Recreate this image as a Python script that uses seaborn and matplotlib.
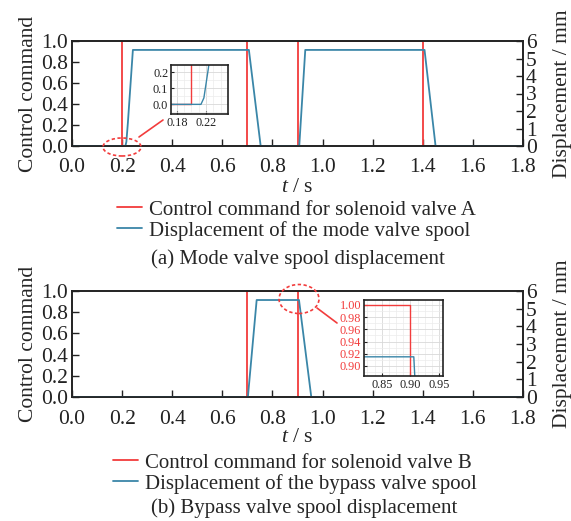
import numpy as np
import pandas as pd
import matplotlib
matplotlib.use("Agg")
import matplotlib.pyplot as plt
import seaborn as sns
from matplotlib.patches import Ellipse
from matplotlib.lines import Line2D
from matplotlib.ticker import MultipleLocator, FormatStrFormatter

# ---------------- data ----------------
cmd_a_t = [0.0, 0.2, 0.2, 0.7, 0.7, 0.9, 0.9, 1.4, 1.4, 1.8]
cmd_a_v = [0, 0, 1, 1, 0, 0, 1, 1, 0, 0]
mode_t = [0.0, 0.213, 0.217, 0.223, 0.243, 0.706, 0.753, 0.907, 0.931, 1.407, 1.451, 1.8]
mode_mm = [0.0, 0.0, 0.24, 1.32, 5.49, 5.49, 0.0, 0.0, 5.49, 5.49, 0.0, 0.0]

cmd_b_t = [0.0, 0.7, 0.7, 0.9, 0.9, 1.8]
cmd_b_v = [0, 0, 1, 1, 0, 0]
bypass_t = [0.0, 0.702, 0.737, 0.906, 0.955, 1.8]
bypass_mm = [0.0, 0.0, 5.49, 5.49, 0.0, 0.0]

x_ticks = [0.0, 0.2, 0.4, 0.6, 0.8, 1.0, 1.2, 1.4, 1.6, 1.8]
left_ticks = [0.0, 0.2, 0.4, 0.6, 0.8, 1.0]
right_ticks = [0, 1, 2, 3, 4, 5, 6]

labels_a = ["Control command for solenoid valve A", "Displacement of the mode valve spool"]
labels_b = ["Control command for solenoid valve B", "Displacement of the bypass valve spool"]
caption_a = "(a) Mode valve spool displacement"
caption_b = "(b) Bypass valve spool displacement"

RED = "#f23c3c"
BLUE = "#3a86a8"

sns.set_style("ticks")
plt.rcParams["font.family"] = ["Liberation Serif", "DejaVu Serif"]
plt.rcParams["mathtext.fontset"] = "custom"
plt.rcParams["mathtext.rm"] = "Liberation Serif"
plt.rcParams["mathtext.it"] = "Liberation Serif:italic"
plt.rcParams["axes.edgecolor"] = "#222222"
plt.rcParams["axes.linewidth"] = 1.2

FS = 15.5
LFS = 15

fig = plt.figure(figsize=(5.71, 5.21), dpi=100)
W, H = 571.0, 521.0


def px_axes(l, r, t, b):
    return [l / W, 1 - b / H, (r - l) / W, (b - t) / H]


def style_main(ax, ax2):
    ax.set_xlim(0, 1.8)
    ax.set_ylim(0, 1.0)
    ax.set_xticks(x_ticks)
    ax.set_yticks(left_ticks)
    ax.xaxis.set_major_formatter(FormatStrFormatter("%.1f"))
    ax.yaxis.set_major_formatter(FormatStrFormatter("%.1f"))
    ax.tick_params(direction="in", length=5, width=1, labelsize=FS, pad=3,
                   top=False, right=False, colors="#222222")
    ax.tick_params(axis="x", pad=9)
    ax.set_ylabel("Control command", fontsize=FS, labelpad=2)
    ax.set_xlabel(r"$\it{t}$ / s", fontsize=FS, labelpad=0)
    ax2.set_ylim(0, 6)
    ax2.set_yticks(right_ticks)
    ax2.tick_params(direction="in", length=5, width=1, labelsize=FS, pad=2,
                    colors="#222222")
    ax2.set_ylabel("Displacement / mm", fontsize=FS, labelpad=12)
    for s in ax.spines.values():
        s.set_visible(True)
    for s in ax2.spines.values():
        s.set_visible(True)


def draw_lines(ax, ax2, ct, cv, dt, dmm):
    sns.lineplot(x=ct, y=cv, ax=ax, color=RED, lw=1.3, sort=False,
                 estimator=None, legend=False)
    sns.lineplot(x=dt, y=dmm, ax=ax2, color=BLUE, lw=1.3, sort=False,
                 estimator=None, legend=False)


def style_inset(ins):
    ins.grid(True, which="major", color="#d8d8d8", lw=0.6)
    ins.grid(True, which="minor", color="#ececec", lw=0.5)
    ins.set_axisbelow(True)
    ins.tick_params(which="both", direction="in", length=2.5, width=0.8,
                    labelsize=8.8, pad=2, colors="#222222")
    ins.tick_params(which="minor", length=0)
    for s in ins.spines.values():
        s.set_visible(True)
        s.set_linewidth(1.2)
        s.set_color("#222222")
    ins.set_xlabel("")
    ins.set_ylabel("")


# ---------------- panel (a) ----------------
ax = fig.add_axes(px_axes(72, 523, 41, 146))
ax2 = ax.twinx()
draw_lines(ax, ax2, cmd_a_t, cmd_a_v, mode_t, mode_mm)
style_main(ax, ax2)

ins1 = fig.add_axes(px_axes(171, 228, 65, 114))
sns.lineplot(x=cmd_a_t, y=cmd_a_v, ax=ins1, color=RED, lw=1.0, sort=False,
             estimator=None, legend=False)
sns.lineplot(x=mode_t, y=[v / 6 for v in mode_mm], ax=ins1, color=BLUE, lw=1.0,
             sort=False, estimator=None, legend=False)
ins1.set_xlim(0.172, 0.250)
ins1.set_ylim(-0.06, 0.245)
ins1.set_xticks([0.18, 0.22])
ins1.set_yticks([0.0, 0.1, 0.2])
ins1.xaxis.set_minor_locator(MultipleLocator(0.01))
ins1.yaxis.set_minor_locator(MultipleLocator(0.05))
ins1.xaxis.set_major_formatter(FormatStrFormatter("%.2f"))
ins1.yaxis.set_major_formatter(FormatStrFormatter("%.1f"))
style_inset(ins1)

leg_kw = dict(loc="upper left", frameon=False, fontsize=LFS, handlelength=1.2,
              handletextpad=0.35, labelspacing=0.05, borderpad=0, borderaxespad=0)
fig.legend(handles=[Line2D([], [], color=RED, lw=1.3), Line2D([], [], color=BLUE, lw=1.3)],
           labels=labels_a, bbox_to_anchor=(117 / W, 1 - 200 / H), **leg_kw)
fig.text(298 / W, 1 - 259 / H, caption_a, ha="center", va="center", fontsize=LFS)

fig.add_artist(Ellipse((122 / W, 1 - 147 / H), 38 / W, 18 / H, transform=fig.transFigure,
                       fill=False, ec=RED, ls=(0, (2, 1.5)), lw=1.2))
fig.add_artist(Line2D([139 / W, 163 / W], [1 - 137 / H, 1 - 120 / H],
                      transform=fig.transFigure, color=RED, lw=1.2))

# ---------------- panel (b) ----------------
bx = fig.add_axes(px_axes(72, 523, 291, 397))
bx2 = bx.twinx()
draw_lines(bx, bx2, cmd_b_t, cmd_b_v, bypass_t, bypass_mm)
style_main(bx, bx2)

ins2 = fig.add_axes(px_axes(364, 443, 300, 376))
sns.lineplot(x=cmd_b_t, y=cmd_b_v, ax=ins2, color=RED, lw=1.0, sort=False,
             estimator=None, legend=False)
sns.lineplot(x=bypass_t, y=[v / 6 for v in bypass_mm], ax=ins2, color=BLUE, lw=1.0,
             sort=False, estimator=None, legend=False)
ins2.set_xlim(0.819, 0.957)
ins2.set_ylim(0.8836, 1.008)
ins2.set_xticks([0.85, 0.90, 0.95])
ins2.set_yticks([0.90, 0.92, 0.94, 0.96, 0.98, 1.00])
ins2.xaxis.set_minor_locator(MultipleLocator(0.0125))
ins2.yaxis.set_minor_locator(MultipleLocator(0.01))
ins2.xaxis.set_major_formatter(FormatStrFormatter("%.2f"))
ins2.yaxis.set_major_formatter(FormatStrFormatter("%.2f"))
style_inset(ins2)
for lab in ins2.get_yticklabels():
    lab.set_color(RED)

fig.legend(handles=[Line2D([], [], color=RED, lw=1.3), Line2D([], [], color=BLUE, lw=1.3)],
           labels=labels_b, bbox_to_anchor=(113 / W, 1 - 453 / H), **leg_kw)
fig.text(304 / W, 1 - 508 / H, caption_b, ha="center", va="center", fontsize=LFS)

fig.add_artist(Ellipse((299 / W, 1 - 299 / H), 40 / W, 29 / H, transform=fig.transFigure,
                       fill=False, ec=RED, ls=(0, (2, 1.5)), lw=1.2))
fig.add_artist(Line2D([317 / W, 337 / W], [1 - 308 / H, 1 - 323 / H],
                      transform=fig.transFigure, color=RED, lw=1.2))

fig.savefig("out.png", dpi=100, facecolor="white")
